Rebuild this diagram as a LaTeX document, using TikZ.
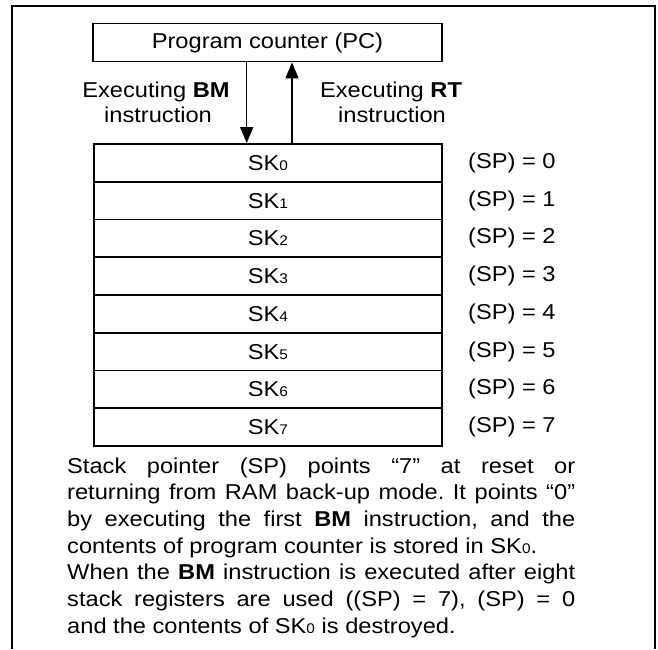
\documentclass[tikz,border=0pt]{standalone}
\usepackage{fontspec}
\setmainfont{Liberation Sans}[FakeStretch=1.1]
\usetikzlibrary{arrows.meta}
\newcommand{\sdig}[1]{{\fontsize{14pt}{14pt}\selectfont #1}}
\frenchspacing
\begin{document}
\begin{tikzpicture}[x=1pt,y=-1pt,
  txt/.style={inner sep=0pt, font=\fontsize{21.5pt}{26pt}\selectfont},
  box/.style={draw, line width=1.8pt, inner sep=0pt, minimum width=348pt, minimum height=37.75pt, txt},
  lbl/.style={txt, anchor=base},
  arr/.style={line width=1.4pt, -{Triangle[length=16pt,width=13pt]}}]
\useasboundingbox (0,0) rectangle (658,649);
% outer frame (open at the bottom)
\draw[line width=2.2pt] (12,649) -- (12,6) -- (655,6) -- (655,649);
% program counter
\node[box, minimum width=349pt, minimum height=38pt] (pc) at (267.5,42.5) {Program counter (PC)};
% stack registers
\foreach \i in {0,...,7}{
  \node[box] (sk\i) at (268,{144+37.75*(\i+0.5)}) {SK\sdig{\i}};
  \node[txt, anchor=west] (sp\i) at (468,{144+37.75*(\i+0.5)}) {(SP) = \i};
}
% arrows
\coordinate (dn) at (246.7,100);
\coordinate (up) at (292,100);
\draw[arr] (pc.south -| dn) -- (sk0.north -| dn);
\draw[arr] (sk0.north -| up) -- (pc.south -| up);
% labels
\node[lbl] (bm1) at (156,97) {Executing \textbf{BM}};
\node[lbl] (bm2) at (158,122) {instruction};
\node[lbl] (rt1) at (391,97) {Executing \textbf{RT}};
\node[lbl] (rt2) at (392,122) {instruction};
% description
\node[txt, anchor=base west] (desc) at (67,473) {\parbox[t]{508pt}{\fontsize{21.5pt}{26.7pt}\selectfont\frenchspacing\hyphenpenalty=10000\parindent=0pt\emergencystretch=20pt
Stack pointer (SP) points “7” at reset or\linebreak
returning from RAM back-up mode. It points “0”\linebreak
by executing the first \textbf{BM} instruction, and the\linebreak
contents of program counter is stored in SK\sdig{0}.\par
When the \textbf{BM} instruction is executed after eight\linebreak
stack registers are used ((SP) = 7), (SP) = 0\linebreak
and the contents of SK\sdig{0} is destroyed.}};
\end{tikzpicture}
\end{document}
